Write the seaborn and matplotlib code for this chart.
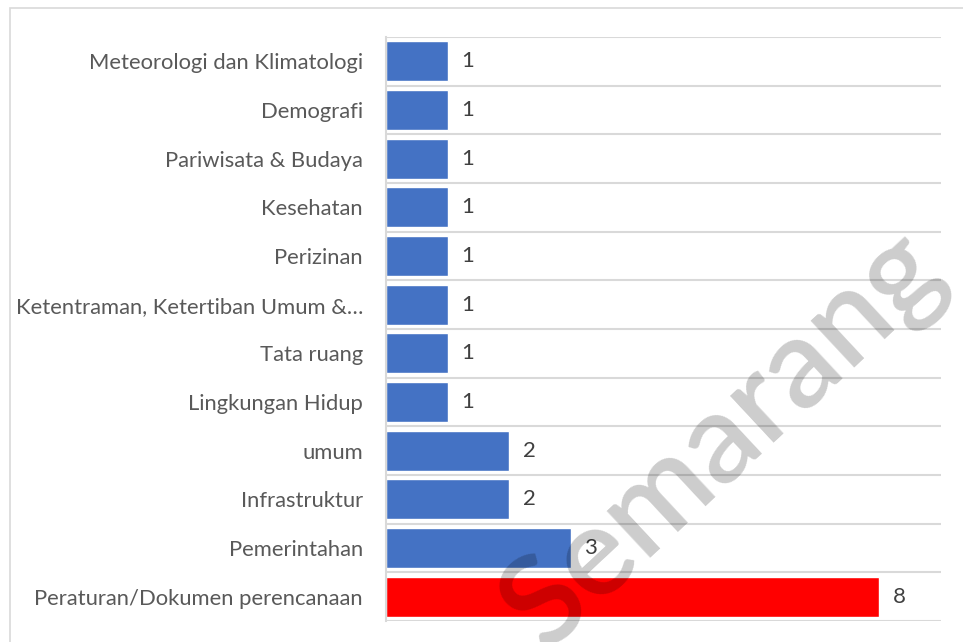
import matplotlib
matplotlib.use("Agg")
import matplotlib.pyplot as plt
import seaborn as sns
import pandas as pd
import numpy as np
from matplotlib.patches import Rectangle

categories = [
    "Meteorologi dan Klimatologi",
    "Demografi",
    "Pariwisata & Budaya",
    "Kesehatan",
    "Perizinan",
    "Ketentraman, Ketertiban Umum &…",
    "Tata ruang",
    "Lingkungan Hidup",
    "umum",
    "Infrastruktur",
    "Pemerintahan",
    "Peraturan/Dokumen perencanaan",
]
values = [1, 1, 1, 1, 1, 1, 1, 1, 2, 2, 3, 8]
highlight = [False] * 11 + [True]

df = pd.DataFrame({"kategori": categories, "jumlah": values,
                   "grup": ["merah" if h else "biru" for h in highlight]})

sns.set_theme(style="white")
plt.rcParams['font.family'] = ['Lato', 'DejaVu Sans']

fig = plt.figure(figsize=(9.63, 6.42), dpi=100)
ax = fig.add_axes([386/963, 1-621/642, (941-386)/963, (621-37)/642])

sns.barplot(data=df, y="kategori", x="jumlah", hue="grup", orient="h",
            palette={"biru": "#4472C4", "merah": "#FF0000"}, width=0.82,
            legend=False, ax=ax, dodge=False, saturation=1)

ax.set_xlim(0, 9)
ax.set_ylim(11.5, -0.5)
ax.set_xlabel("")
ax.set_ylabel("")
ax.set_xticks([])
ax.set_yticks(np.arange(-0.5, 12, 1), minor=True)
ax.grid(False)
ax.grid(which="minor", axis="y", color="#D9D9D9", linewidth=1.5)
ax.tick_params(axis="y", which="both", length=0, pad=16.5, labelsize=15.8, labelcolor="#595959")
for s in ["top", "right", "bottom"]:
    ax.spines[s].set_visible(False)
ax.spines["left"].set_color("#D9D9D9")
ax.spines["left"].set_linewidth(1.5)

for cont in ax.containers:
    ax.bar_label(cont, padding=9.5, fontsize=16, color="#404040")

# outer border
fig.patches.append(Rectangle((10/963, -0.5), 2.0, 1.5 - 8/642, transform=fig.transFigure,
                             fill=False, edgecolor="#D9D9D9", linewidth=1.2))

# watermark
fig.text(724/963, 1-440/642, "Semarang", fontsize=91, fontweight="semibold",
         color="black", alpha=0.2,
         rotation=43, ha="center", va="center", rotation_mode="anchor")

fig.savefig("out.png", dpi=100)
